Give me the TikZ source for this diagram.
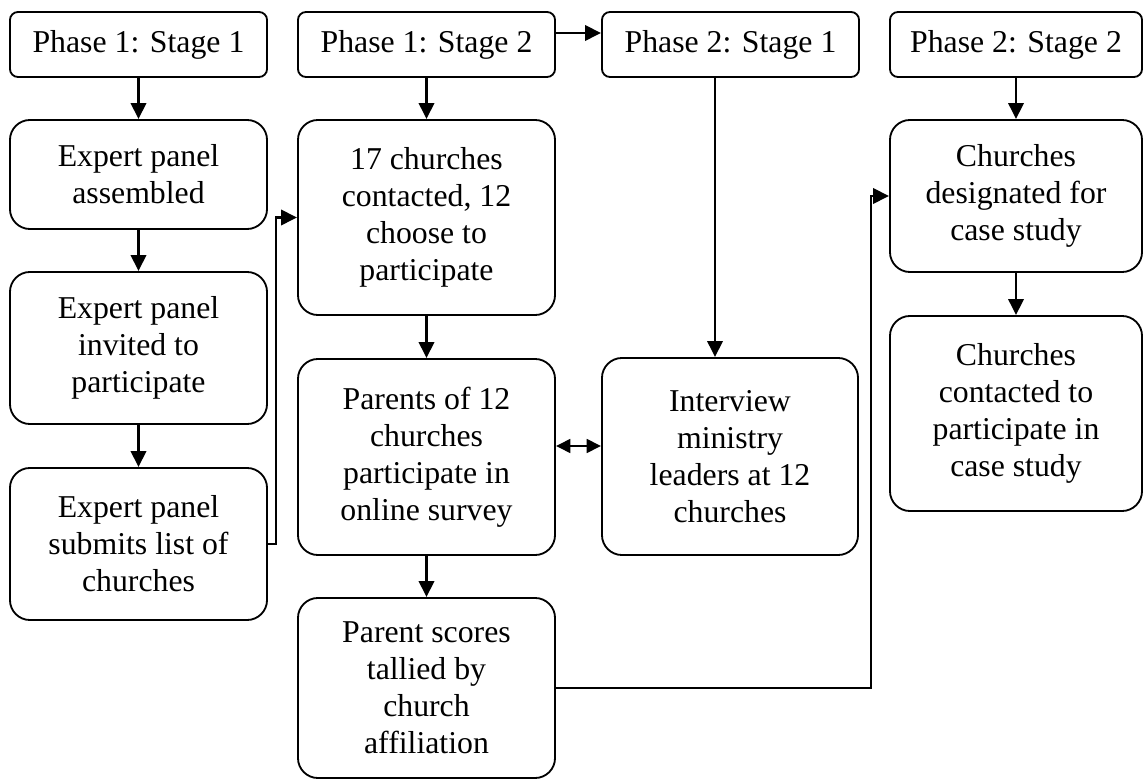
\documentclass[tikz,border=0pt]{standalone}
\usepackage{fontspec}
\setmainfont{Liberation Serif}
\usetikzlibrary{arrows.meta}
\begin{document}
\begin{tikzpicture}[x=0.025cm,y=-0.025cm,
  every node/.style={font=\fontsize{22.6}{26.3}\selectfont, align=center, inner sep=0pt},
  hdr/.style={draw, line width=1.3pt, rounded corners=0.2cm, minimum height=1.625cm},
  stepbox/.style={draw, line width=1.3pt, rounded corners=0.5cm},
  arr/.style={line width=2pt, -{Triangle[length=0.4cm,width=0.38cm]}},
  both/.style={line width=2pt, {Triangle[length=0.36cm,width=0.34cm]}-{Triangle[length=0.36cm,width=0.34cm]}}]
\useasboundingbox (0,0) rectangle (1144,780);

% stage headers
\node[hdr, minimum width=6.425cm] (h11) at (138.5,44.5) {Phase 1: Stage 1};
\node[hdr, minimum width=6.425cm] (h12) at (426.5,44.5) {Phase 1: Stage 2};
\node[hdr, minimum width=6.425cm] (h21) at (730.5,44.5) {Phase 2: Stage 1};
\node[hdr, minimum width=6.3cm]   (h22) at (1016,44.5)  {Phase 2: Stage 2};

% phase 1, stage 1
\node[stepbox, minimum width=6.425cm, minimum height=2.725cm] (a1) at (138.5,174.5) {Expert panel\\assembled};
\node[stepbox, minimum width=6.425cm, minimum height=3.8cm] (a2) at (138.5,348) {Expert panel\\invited to\\participate};
\node[stepbox, minimum width=6.425cm, minimum height=3.8cm] (a3) at (138.5,544) {Expert panel\\submits list of\\churches};

% phase 1, stage 2
\node[stepbox, minimum width=6.425cm, minimum height=4.875cm] (b1) at (426.5,217.5) {17 churches\\contacted, 12\\choose to\\participate};
\node[stepbox, minimum width=6.425cm, minimum height=4.9cm] (b2) at (426.5,457) {Parents of 12\\churches\\participate in\\online survey};
\node[stepbox, minimum width=6.425cm, minimum height=4.5cm] (b3) at (426.5,688) {Parent scores\\tallied by\\church\\affiliation};

% phase 2, stage 1
\node[stepbox, minimum width=6.4cm, minimum height=4.925cm] (c1) at (730,456.5) {Interview\\ministry\\leaders at 12\\churches};

% phase 2, stage 2
\node[stepbox, minimum width=6.3cm, minimum height=3.8cm] (d1) at (1016,196) {Churches\\designated for\\case study};
\node[stepbox, minimum width=6.3cm, minimum height=4.875cm] (d2) at (1016,413.5) {Churches\\contacted to\\participate in\\case study};

% routing helpers
\coordinate (j1) at (276,380);
\coordinate (j2) at (871,440);
\coordinate (yh) at (0,33);
\coordinate (yd) at (0,446);
\coordinate (xc) at (715,0);

% connectors
\draw[arr] (h11) -- (a1);
\draw[arr] (a1) -- (a2);
\draw[arr] (a2) -- (a3);
\draw[arr] (a3.east) -| (j1) |- (b1.west);
\draw[arr] (h12) -- (b1);
\draw[arr] (b1) -- (b2);
\draw[arr] (b2) -- (b3);
\draw[arr] (h12.east |- yh) -- (h21.west |- yh);
\draw[arr] (h21.south -| xc) -- (c1.north -| xc);
\draw[both] (b2.east |- yd) -- (c1.west |- yd);
\draw[arr] (b3.east) -| (j2) |- (d1.west);
\draw[arr] (h22) -- (d1);
\draw[arr] (d1) -- (d2);
\end{tikzpicture}
\end{document}
